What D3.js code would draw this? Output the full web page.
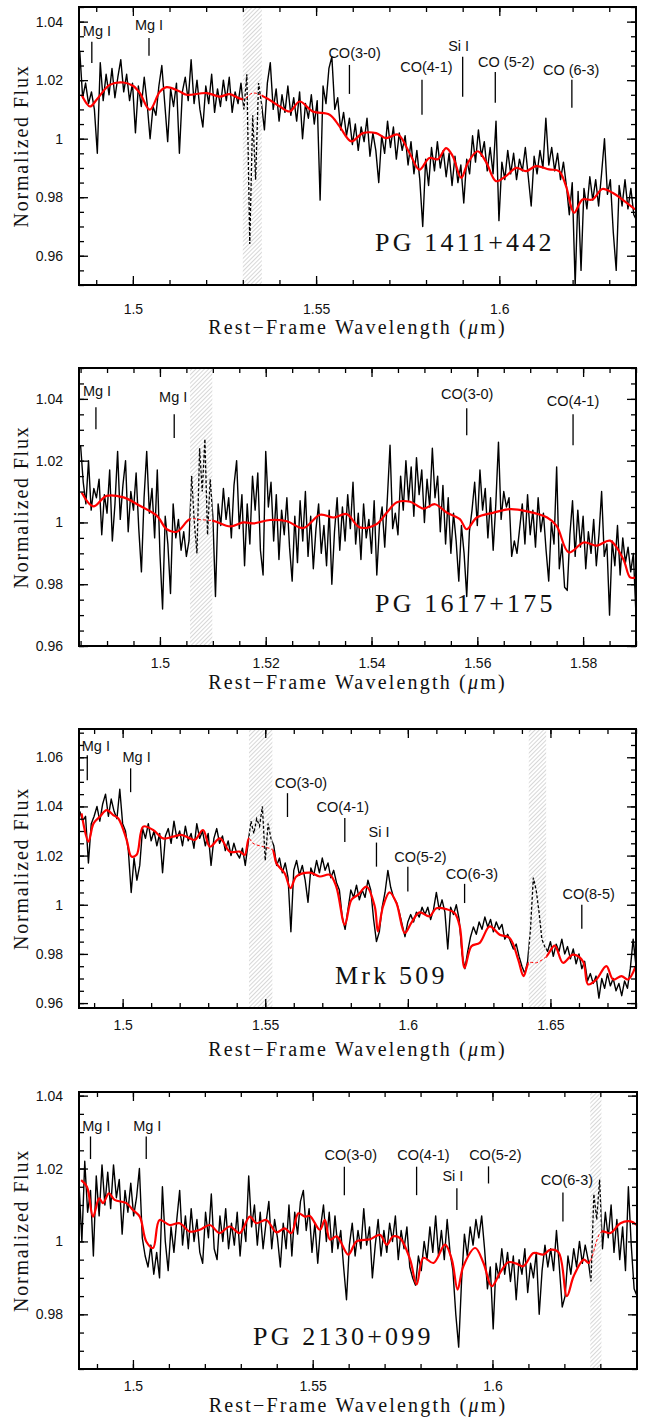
<!DOCTYPE html>
<html>
<head>
<meta charset="utf-8">
<script src="https://cdn.jsdelivr.net/npm/d3@7"></script>
<style>
  body { margin: 0; background: #fff; }
  svg { display: block; }
</style>
</head>
<body>
<svg id="fig" width="647" height="1422"></svg>
<script>
// ---- PG 1411+442 ----
const pg1411Wave0 = 1.4855, pg1411Step = 0.0008;
const pg1411Flux = [
  1.030,1.014,1.019,1.012,1.016,1.010,0.995,1.026,1.013,1.022,
  1.015,1.024,1.014,1.021,1.027,1.016,1.022,1.013,1.019,1.002,
  1.018,1.011,1.021,1.012,1.000,1.011,1.008,1.018,1.025,1.012,
  0.999,1.017,1.011,1.019,0.995,1.016,1.021,1.013,1.027,1.012,
  1.020,1.010,1.004,1.018,1.012,1.022,1.009,1.017,1.011,1.020,
  1.013,1.021,1.009,1.016,1.012,1.019,1.010,1.022,0.964,1.008,
  0.986,1.019,1.012,1.003,1.019,1.026,1.010,1.017,1.006,1.015,
  1.009,1.018,1.008,1.014,1.006,1.016,1.000,1.012,1.007,1.015,
  1.005,1.013,0.979,1.018,1.012,1.024,1.028,1.010,1.014,1.003,
  1.009,1.001,1.007,0.998,1.005,0.996,1.004,0.999,1.007,0.994,
  1.002,0.996,0.985,1.001,0.995,1.006,0.997,1.004,0.993,1.002,
  0.996,1.001,0.991,0.999,0.988,0.996,0.986,0.970,0.993,0.984,
  0.997,0.989,0.999,0.990,0.996,0.987,0.995,0.984,0.994,0.985,
  0.991,0.978,0.993,0.988,1.001,0.992,1.003,0.994,0.999,0.989,
  0.997,0.988,1.006,0.972,0.992,0.986,0.996,0.988,0.995,0.986,
  0.993,0.989,0.997,0.987,0.977,0.994,0.988,0.996,0.990,1.007,
  0.991,0.997,0.989,0.995,0.986,0.992,0.984,0.974,0.985,0.950,
  0.982,0.955,0.983,0.976,0.987,0.979,0.986,0.977,0.988,1.000,
  0.981,0.986,0.968,0.955,0.984,0.977,0.986,0.976,0.983,0.974,
  0.972
];
const pg1411FitWave = [
  1.4860,1.4883,1.4901,1.4937,1.4974,1.5001,1.5019,1.5046,1.5074,1.5092,
  1.5128,1.5146,1.5201,1.5237,1.5264,1.5301,1.5328,1.5364,1.5401,1.5428,
  1.5455,1.5491,1.5537,1.5564,1.5596,1.5628,1.5664,1.5691,1.5723,1.5755,
  1.5782,1.5809,1.5832,1.5855,1.5873,1.5896,1.5914,1.5941,1.5964,1.5991,
  1.6018,1.6046,1.6073,1.6100,1.6136,1.6163,1.6182,1.6204,1.6227,1.6254,
  1.6281,1.6309,1.6336,1.6371
];
const pg1411FitFlux = [
  1.0150,1.0110,1.0133,1.0184,1.0192,1.0180,1.0156,1.0099,1.0161,1.0176,
  1.0161,1.0150,1.0156,1.0144,1.0152,1.0135,1.0156,1.0139,1.0110,1.0093,
  1.0127,1.0093,1.0082,1.0042,0.9991,1.0019,1.0019,1.0002,1.0014,0.9951,
  0.9894,0.9934,0.9930,0.9968,0.9940,0.9866,0.9917,0.9957,0.9920,0.9855,
  0.9872,0.9900,0.9889,0.9906,0.9895,0.9889,0.9838,0.9747,0.9792,0.9792,
  0.9828,0.9815,0.9792,0.9758
];
const pg1411Masks = [[1.5300, 1.5352]];
const pg1411Lines = [
  { label: "Mg I",     wl: 1.4888, top: 1.0331, bot: 1.0259, tw: 1.4902, tf: 1.0368 },
  { label: "Mg I",     wl: 1.5044, top: 1.0344, bot: 1.0283, tw: 1.5044, tf: 1.0389 },
  { label: "CO(3-0)",  wl: 1.5591, top: 1.0252, bot: 1.0153, tw: 1.5605, tf: 1.0293 },
  { label: "CO(4-1)",  wl: 1.5789, top: 1.0201, bot: 1.0082, tw: 1.5801, tf: 1.0245 },
  { label: "Si I",     wl: 1.5900, top: 1.0280, bot: 1.0143, tw: 1.5889, tf: 1.0317 },
  { label: "CO (5-2)", wl: 1.5989, top: 1.0228, bot: 1.0123, tw: 1.6019, tf: 1.0263 },
  { label: "CO (6-3)", wl: 1.6198, top: 1.0201, bot: 1.0106, tw: 1.6196, tf: 1.0235 }
];

// ---- PG 1617+175 ----
const pg1617Wave0 = 1.4850, pg1617Step = 0.0005;
const pg1617Flux = [
  1.025,1.013,1.006,1.020,1.004,1.011,1.008,1.014,0.996,1.009,
  1.003,1.017,0.994,1.006,1.023,1.001,1.012,1.020,0.997,1.010,
  1.004,1.016,0.998,0.984,1.008,1.023,1.003,1.011,0.995,1.017,
  0.990,0.972,1.002,0.993,0.977,1.006,0.995,1.001,0.991,0.997,
  0.989,0.994,1.015,1.000,0.990,1.024,1.010,1.027,0.996,1.014,
  1.002,0.976,1.006,0.999,1.011,1.001,1.008,0.995,1.012,1.020,
  0.998,1.009,0.986,1.006,0.993,1.015,1.004,1.016,0.991,0.983,
  1.023,1.005,1.013,0.994,1.009,0.988,1.004,0.996,1.008,0.992,
  0.981,1.002,0.987,1.007,0.994,1.010,0.989,1.002,0.985,0.998,
  1.006,0.990,0.999,0.986,1.004,0.980,0.997,1.008,0.991,1.005,
  0.994,1.009,0.998,1.013,0.993,1.003,0.988,1.006,0.995,1.001,
  0.990,1.007,0.983,0.999,1.005,0.992,1.008,1.025,0.998,1.003,
  0.996,1.015,1.004,1.020,1.007,1.018,1.002,1.021,1.009,1.017,
  1.000,1.014,1.005,1.024,1.008,1.015,0.997,1.012,0.993,1.008,
  0.990,1.003,0.994,0.981,0.999,0.990,0.976,0.997,1.004,1.013,
  0.999,1.017,1.004,1.011,0.995,1.008,0.991,1.006,1.026,1.001,
  1.010,1.005,1.008,0.989,0.994,0.990,0.998,1.006,0.993,1.009,
  0.996,1.004,0.992,1.008,0.997,1.003,0.991,0.981,1.000,0.993,
  1.018,0.985,0.993,0.979,0.978,0.996,1.007,0.989,1.004,0.992,
  1.002,0.985,0.997,0.990,1.001,0.986,0.996,1.010,0.989,0.993,
  0.970,0.994,0.986,0.999,0.983,0.995,0.987,0.992,0.984,0.990,
  0.970
];
const pg1617FitWave = [
  1.4852,1.4874,1.4899,1.4931,1.4962,1.4994,1.5013,1.5032,1.5057,1.5076,
  1.5101,1.5133,1.5158,1.5177,1.5208,1.5240,1.5271,1.5303,1.5328,1.5353,
  1.5378,1.5410,1.5429,1.5448,1.5473,1.5498,1.5520,1.5542,1.5567,1.5580,
  1.5599,1.5631,1.5662,1.5694,1.5732,1.5750,1.5773,1.5801,1.5826,1.5851,
  1.5876,1.5889,1.5900
];
const pg1617FitFlux = [
  1.0097,1.0052,1.0086,1.0081,1.0054,1.0022,0.9978,0.9970,1.0011,1.0009,
  1.0005,0.9987,1.0000,0.9997,1.0008,1.0004,0.9982,1.0025,1.0016,1.0027,
  0.9984,0.9995,1.0032,1.0065,1.0067,1.0045,1.0059,1.0032,1.0011,0.9978,
  1.0016,1.0032,1.0043,1.0036,1.0016,0.9989,0.9903,0.9935,0.9925,0.9941,
  0.9881,0.9822,0.9822
];
const pg1617Masks = [[1.5057, 1.5099]];
const pg1617Lines = [
  { label: "Mg I",    wl: 1.4879, top: 1.0373, bot: 1.0302, tw: 1.4881, tf: 1.0425 },
  { label: "Mg I",    wl: 1.5027, top: 1.0350, bot: 1.0273, tw: 1.5025, tf: 1.0405 },
  { label: "CO(3-0)", wl: 1.5580, top: 1.0370, bot: 1.0282, tw: 1.5581, tf: 1.0415 },
  { label: "CO(4-1)", wl: 1.5781, top: 1.0350, bot: 1.0250, tw: 1.5781, tf: 1.0392 }
];

// ---- Mrk 509 ----
const mrk509Wave0 = 1.4850, mrk509Step = 0.001;
const mrk509Flux = [
  1.038,1.034,1.036,1.017,1.033,1.036,1.040,1.034,1.041,1.045,
  1.036,1.043,1.038,1.035,1.047,1.033,1.030,1.022,1.005,1.019,
  1.010,1.016,1.031,1.027,1.033,1.026,1.030,1.024,1.029,1.013,
  1.028,1.031,1.025,1.034,1.027,1.030,1.024,1.032,1.026,1.029,
  1.023,1.033,1.027,1.030,1.024,1.029,1.016,1.027,1.031,1.025,
  1.028,1.022,1.026,1.020,1.025,1.021,1.019,1.023,1.016,1.025,
  1.034,1.029,1.035,1.032,1.040,1.018,1.033,1.027,1.024,1.016,
  1.019,1.013,1.017,1.011,0.989,1.014,1.018,1.012,1.016,1.010,
  1.001,1.015,1.012,1.018,1.013,1.019,1.014,1.017,1.011,1.014,
  1.009,1.006,0.995,0.990,0.998,1.006,1.003,1.008,1.002,1.006,
  1.003,1.010,1.006,0.994,0.985,0.989,0.999,1.005,1.014,1.007,
  1.003,1.001,0.997,0.992,0.987,0.993,0.996,0.993,0.997,0.995,
  0.999,0.996,0.999,0.994,0.998,1.005,0.998,1.002,0.997,0.982,
  0.999,0.996,1.000,0.994,0.980,0.974,0.981,0.987,0.991,0.988,
  0.993,0.990,0.995,0.991,0.994,0.989,0.993,0.990,0.992,0.986,
  0.988,0.985,0.982,0.984,0.979,0.975,0.972,0.977,0.990,1.011,
  1.006,0.997,0.986,0.983,0.981,0.985,0.979,0.984,0.981,0.986,
  0.980,0.983,0.978,0.982,0.976,0.980,0.974,0.977,0.969,0.972,
  0.968,0.971,0.962,0.970,0.966,0.972,0.967,0.970,0.965,0.968,
  0.963,0.969,0.966,0.974,0.986,0.975
];
const mrk509FitWave = [
  1.4856,1.4880,1.4898,1.4920,1.4944,1.4967,1.4985,1.5014,1.5031,1.5049,
  1.5072,1.5107,1.5142,1.5177,1.5206,1.5236,1.5253,1.5282,1.5306,1.5341,
  1.5376,1.5411,1.5428,1.5443,1.5457,1.5492,1.5525,1.5539,1.5568,1.5589,
  1.5609,1.5656,1.5691,1.5726,1.5749,1.5779,1.5802,1.5826,1.5855,1.5884,
  1.5895,1.5913,1.5936,1.5960,1.5989,1.6012,1.6041,1.6076,1.6100,1.6135,
  1.6164,1.6182,1.6199,1.6223,1.6252,1.6287,1.6322,1.6357,1.6387,1.6406,
  1.6425,1.6451,1.6486,1.6515,1.6544,1.6579,1.6614,1.6632,1.6661,1.6696,
  1.6720,1.6749,1.6772,1.6799
];
const mrk509FitFlux = [
  1.0372,1.0257,1.0331,1.0358,1.0385,1.0365,1.0351,1.0264,1.0196,1.0203,
  1.0318,1.0304,1.0270,1.0277,1.0284,1.0270,1.0264,1.0304,1.0236,1.0270,
  1.0216,1.0216,1.0203,1.0270,1.0250,1.0236,1.0223,1.0169,1.0128,1.0068,
  1.0115,1.0131,1.0115,1.0122,1.0074,0.9919,1.0020,1.0041,1.0074,0.9993,
  0.9892,0.9993,1.0050,1.0007,0.9885,0.9926,0.9969,0.9953,0.9986,0.9982,
  0.9966,0.9912,0.9743,0.9831,0.9845,0.9912,0.9878,0.9865,0.9777,0.9710,
  0.9764,0.9764,0.9790,0.9834,0.9764,0.9797,0.9770,0.9676,0.9696,0.9750,
  0.9696,0.9710,0.9696,0.9750
];
const mrk509Masks = [[1.5443, 1.5525], [1.6424, 1.6485]];
const mrk509Lines = [
  { label: "Mg I",    wl: 1.4876, top: 1.0608, bot: 1.0507, tw: 1.4906, tf: 1.0646 },
  { label: "Mg I",    wl: 1.5028, top: 1.0555, bot: 1.0458, tw: 1.5049, tf: 1.0600 },
  { label: "CO(3-0)", wl: 1.5578, top: 1.0454, bot: 1.0357, tw: 1.5625, tf: 1.0496 },
  { label: "CO(4-1)", wl: 1.5779, top: 1.0353, bot: 1.0255, tw: 1.5772, tf: 1.0397 },
  { label: "Si I",    wl: 1.5890, top: 1.0253, bot: 1.0155, tw: 1.5899, tf: 1.0297 },
  { label: "CO(5-2)", wl: 1.6000, top: 1.0155, bot: 1.0054, tw: 1.6044, tf: 1.0193 },
  { label: "CO(6-3)", wl: 1.6199, top: 1.0085, bot: 1.0007, tw: 1.6225, tf: 1.0126 },
  { label: "CO(8-5)", wl: 1.6610, top: 1.0000, bot: 0.9902, tw: 1.6634, tf: 1.0045 }
];

// ---- PG 2130+099 ----
const pg2130Wave0 = 1.4850, pg2130Step = 0.0008;
const pg2130Flux = [
  1.016,1.000,1.022,1.008,1.014,0.996,1.018,1.007,1.021,1.010,
  1.019,1.009,1.021,1.012,1.017,1.002,1.014,1.008,1.016,1.007,
  1.012,1.020,1.001,0.996,0.993,0.999,0.991,0.997,0.990,1.015,
  1.000,0.992,1.004,0.997,1.006,1.014,0.999,1.007,0.998,1.009,
  1.000,1.006,0.997,0.994,1.008,1.001,1.013,0.998,0.995,1.007,
  1.000,1.009,0.998,1.005,0.999,1.008,0.996,1.006,1.000,1.018,
  1.004,1.010,0.999,1.008,0.998,1.005,1.011,0.998,1.006,1.001,
  0.993,1.005,0.998,1.010,0.996,1.008,1.002,1.011,1.014,1.003,
  1.009,0.997,1.005,0.994,1.004,1.010,1.000,1.008,0.997,1.007,
  0.998,1.003,0.993,0.984,0.999,1.005,0.996,1.003,0.998,1.009,
  0.999,1.004,0.990,0.999,1.006,0.996,1.003,0.997,1.005,1.000,
  1.007,0.995,1.003,0.998,1.004,0.993,0.990,0.988,0.996,0.992,
  1.000,0.995,1.004,0.997,1.007,0.996,1.003,0.995,1.006,0.997,
  0.992,0.980,0.971,0.989,1.002,0.996,1.004,0.999,1.006,1.001,
  1.007,0.998,0.987,0.993,0.976,0.994,0.990,0.998,0.991,0.997,
  0.989,0.996,0.984,0.995,0.991,0.998,0.986,0.994,0.990,0.997,
  0.980,0.992,0.999,0.993,0.998,0.992,1.003,0.993,0.982,0.985,
  0.996,0.991,0.998,0.993,1.000,0.994,0.999,0.995,0.989,1.013,
  1.006,1.017,0.998,1.008,1.001,1.010,0.997,1.006,0.995,1.004,
  0.992,1.015,0.999,0.987,0.985
];
const pg2130FitWave = [
  1.4856,1.4872,1.4889,1.4906,1.4917,1.4933,1.4949,1.4982,1.5000,1.5019,
  1.5037,1.5056,1.5074,1.5102,1.5130,1.5158,1.5186,1.5214,1.5241,1.5269,
  1.5297,1.5325,1.5343,1.5371,1.5399,1.5422,1.5441,1.5460,1.5478,1.5492,
  1.5520,1.5534,1.5548,1.5567,1.5599,1.5622,1.5660,1.5687,1.5706,1.5724,
  1.5743,1.5771,1.5789,1.5808,1.5836,1.5868,1.5887,1.5903,1.5919,1.5952,
  1.5975,1.5998,1.6021,1.6044,1.6067,1.6086,1.6114,1.6142,1.6160,1.6184,
  1.6207,1.6226,1.6254,1.6268,1.6303,1.6328,1.6356,1.6384,1.6402
];
const pg2130FitFlux = [
  1.0168,1.0150,1.0068,1.0118,1.0105,1.0132,1.0114,1.0105,1.0086,1.0068,
  1.0000,0.9982,1.0059,1.0045,1.0050,1.0027,1.0032,1.0045,1.0023,1.0041,
  1.0023,1.0068,1.0050,1.0059,1.0025,1.0036,1.0023,1.0077,1.0068,1.0070,
  1.0032,1.0059,1.0005,1.0014,0.9964,1.0000,1.0006,1.0018,0.9991,1.0014,
  1.0009,0.9950,0.9882,0.9955,0.9941,0.9991,0.9950,0.9868,0.9932,0.9982,
  0.9941,0.9877,0.9914,0.9943,0.9939,0.9932,0.9968,0.9964,0.9977,0.9970,
  0.9850,0.9905,0.9950,0.9941,1.0027,1.0023,1.0050,1.0055,1.0045
];
const pg2130Masks = [[1.6272, 1.6303]];
const pg2130Lines = [
  { label: "Mg I",    wl: 1.4882, top: 1.0288, bot: 1.0226, tw: 1.4898, tf: 1.0318 },
  { label: "Mg I",    wl: 1.5037, top: 1.0288, bot: 1.0226, tw: 1.5040, tf: 1.0318 },
  { label: "CO(3-0)", wl: 1.5588, top: 1.0205, bot: 1.0127, tw: 1.5606, tf: 1.0236 },
  { label: "CO(4-1)", wl: 1.5789, top: 1.0205, bot: 1.0127, tw: 1.5808, tf: 1.0236 },
  { label: "Si I",    wl: 1.5901, top: 1.0146, bot: 1.0086, tw: 1.5890, tf: 1.0179 },
  { label: "CO(5-2)", wl: 1.5989, top: 1.0206, bot: 1.0159, tw: 1.6008, tf: 1.0236 },
  { label: "CO(6-3)", wl: 1.6196, top: 1.0134, bot: 1.0055, tw: 1.6207, tf: 1.0170 }
];

// layout of the four stacked panels (labelPad / titleDy measured per panel)
const panels = [
  { name: "PG 1411+442", box: { l: 79, t: 7, r: 636, b: 285 }, labelPad: 19, titleDy: 49,
    xDom: [1.4853, 1.6373], yDom: [0.95, 1.045],
    xMajor: [1.5, 1.55, 1.6], xMinor: 0.01, yMajor: [0.96, 0.98, 1, 1.02, 1.04], yMinor: 0.005,
    w0: pg1411Wave0, dw: pg1411Step, flux: pg1411Flux, fitW: pg1411FitWave, fitF: pg1411FitFlux,
    masks: pg1411Masks, lines: pg1411Lines, namePos: [375, 251] },
  { name: "PG 1617+175", box: { l: 79, t: 368, r: 636, b: 646 }, labelPad: 12, titleDy: 43,
    xDom: [1.4847, 1.59], yDom: [0.96, 1.05],
    xMajor: [1.5, 1.52, 1.54, 1.56, 1.58], xMinor: 0.005, yMajor: [0.96, 0.98, 1, 1.02, 1.04], yMinor: 0.005,
    w0: pg1617Wave0, dw: pg1617Step, flux: pg1617Flux, fitW: pg1617FitWave, fitF: pg1617FitFlux,
    masks: pg1617Masks, lines: pg1617Lines, namePos: [375, 612] },
  { name: "Mrk 509", box: { l: 79, t: 729, r: 636, b: 1008 }, labelPad: 12, titleDy: 48,
    xDom: [1.4847, 1.68], yDom: [0.958, 1.0715],
    xMajor: [1.5, 1.55, 1.6, 1.65], xMinor: 0.01, yMajor: [0.96, 0.98, 1, 1.02, 1.04, 1.06], yMinor: 0.005,
    w0: mrk509Wave0, dw: mrk509Step, flux: mrk509Flux, fitW: mrk509FitWave, fitF: mrk509FitFlux,
    masks: mrk509Masks, lines: mrk509Lines, namePos: [335, 984] },
  { name: "PG 2130+099", box: { l: 79, t: 1092, r: 637, b: 1369 }, labelPad: 12, titleDy: 43,
    xDom: [1.485, 1.6402], yDom: [0.965, 1.041],
    xMajor: [1.5, 1.55, 1.6], xMinor: 0.01, yMajor: [0.98, 1, 1.02, 1.04], yMinor: 0.005,
    w0: pg2130Wave0, dw: pg2130Step, flux: pg2130Flux, fitW: pg2130FitWave, fitF: pg2130FitFlux,
    masks: pg2130Masks, lines: pg2130Lines, namePos: [253, 1345] }
];

const sans = "'Liberation Sans', Arial, Helvetica, sans-serif";
const serif = "'Liberation Serif', 'Times New Roman', serif";
const fmt = d3.format("~g");

const svg = d3.select("#fig");
const defs = svg.append("defs");

// grey hatching for the masked (telluric) windows
const hatch = defs.append("pattern")
  .attr("id", "hatch")
  .attr("patternUnits", "userSpaceOnUse")
  .attr("width", 3).attr("height", 3)
  .attr("patternTransform", "rotate(45)");
hatch.append("line")
  .attr("x1", 0).attr("y1", 0).attr("x2", 0).attr("y2", 3)
  .attr("stroke", "#bcbcbc").attr("stroke-width", 1.2);

function stepTicks(dom, step) {
  const a = Math.ceil(dom[0] / step - 1e-9), b = Math.floor(dom[1] / step + 1e-9);
  return d3.range(a, b + 1).map(k => +(k * step).toFixed(4));
}

function drawAxis(g, axis, tr) {
  const a = g.append("g").attr("transform", tr).call(axis);
  a.select(".domain").remove();
  a.selectAll("line").attr("stroke", "#000").attr("stroke-width", 1.3);
  a.selectAll("text").attr("font-family", sans).attr("font-size", 14).attr("fill", "#111");
  return a;
}

panels.forEach((p, k) => {
  const b = p.box;
  const x = d3.scaleLinear().domain(p.xDom).range([b.l, b.r]);
  const y = d3.scaleLinear().domain(p.yDom).range([b.b, b.t]);
  const g = svg.append("g").attr("class", "panel");

  // clip areas: inside the masks and outside them
  const gaps = [];
  let from = p.xDom[0];
  p.masks.forEach(m => { gaps.push([from, m[0]]); from = m[1]; });
  gaps.push([from, p.xDom[1]]);

  defs.append("clipPath").attr("id", "in" + k)
    .selectAll("rect").data(p.masks).join("rect")
    .attr("x", d => x(d[0])).attr("width", d => x(d[1]) - x(d[0]))
    .attr("y", b.t).attr("height", b.b - b.t);
  defs.append("clipPath").attr("id", "out" + k)
    .selectAll("rect").data(gaps).join("rect")
    .attr("x", d => x(d[0])).attr("width", d => x(d[1]) - x(d[0]))
    .attr("y", b.t).attr("height", b.b - b.t);

  g.selectAll("rect.mask").data(p.masks).join("rect")
    .attr("class", "mask")
    .attr("x", d => x(d[0])).attr("width", d => x(d[1]) - x(d[0]))
    .attr("y", b.t).attr("height", b.b - b.t)
    .attr("fill", "url(#hatch)");

  const spec = p.flux.map((f, i) => [p.w0 + i * p.dw, f]);
  const fit = p.fitW.map((w, i) => [w, p.fitF[i]]);
  const specLine = d3.line().x(d => x(d[0])).y(d => y(d[1]));
  const fitLine = d3.line().x(d => x(d[0])).y(d => y(d[1])).curve(d3.curveCatmullRom.alpha(0.5));

  g.append("path").attr("d", specLine(spec))
    .attr("clip-path", `url(#out${k})`)
    .attr("fill", "none").attr("stroke", "#000").attr("stroke-width", 1.4)
    .attr("stroke-linejoin", "round");
  g.append("path").attr("d", specLine(spec))
    .attr("clip-path", `url(#in${k})`)
    .attr("fill", "none").attr("stroke", "#000").attr("stroke-width", 1.3)
    .attr("stroke-dasharray", "3,2");
  g.append("path").attr("d", fitLine(fit))
    .attr("clip-path", `url(#out${k})`)
    .attr("fill", "none").attr("stroke", "#f00").attr("stroke-width", 2.2);
  g.append("path").attr("d", fitLine(fit))
    .attr("clip-path", `url(#in${k})`)
    .attr("fill", "none").attr("stroke", "#f00").attr("stroke-width", 1)
    .attr("stroke-dasharray", "3,2");

  // inward ticks on all four sides
  const xMin = stepTicks(p.xDom, p.xMinor), yMin = stepTicks(p.yDom, p.yMinor);
  drawAxis(g, d3.axisBottom(x).tickValues(p.xMajor).tickSize(-9).tickPadding(p.labelPad).tickFormat(fmt), `translate(0,${b.b})`);
  drawAxis(g, d3.axisBottom(x).tickValues(xMin).tickSize(-5).tickFormat(""), `translate(0,${b.b})`);
  drawAxis(g, d3.axisTop(x).tickValues(p.xMajor).tickSize(-9).tickFormat(""), `translate(0,${b.t})`);
  drawAxis(g, d3.axisTop(x).tickValues(xMin).tickSize(-5).tickFormat(""), `translate(0,${b.t})`);
  drawAxis(g, d3.axisLeft(y).tickValues(p.yMajor).tickSize(-9).tickPadding(16).tickFormat(fmt), `translate(${b.l},0)`);
  drawAxis(g, d3.axisLeft(y).tickValues(yMin).tickSize(-5).tickFormat(""), `translate(${b.l},0)`);
  drawAxis(g, d3.axisRight(y).tickValues(p.yMajor).tickSize(-9).tickFormat(""), `translate(${b.r},0)`);
  drawAxis(g, d3.axisRight(y).tickValues(yMin).tickSize(-5).tickFormat(""), `translate(${b.r},0)`);

  g.append("rect")
    .attr("x", b.l).attr("y", b.t).attr("width", b.r - b.l).attr("height", b.b - b.t)
    .attr("fill", "none").attr("stroke", "#000").attr("stroke-width", 2);

  // line identifications
  const ann = g.selectAll("g.ann").data(p.lines).join("g").attr("class", "ann");
  ann.append("line")
    .attr("x1", d => x(d.wl)).attr("x2", d => x(d.wl))
    .attr("y1", d => y(d.top)).attr("y2", d => y(d.bot))
    .attr("stroke", "#000").attr("stroke-width", 1.3);
  ann.append("text")
    .attr("x", d => x(d.tw)).attr("y", d => y(d.tf))
    .attr("text-anchor", "middle").attr("dy", "0.35em")
    .attr("font-family", sans).attr("font-size", 14.5).attr("fill", "#111")
    .text(d => d.label);

  g.append("text")
    .attr("x", p.namePos[0]).attr("y", p.namePos[1])
    .attr("font-family", serif).attr("font-size", 26).attr("letter-spacing", 3.2)
    .attr("fill", "#111")
    .text(p.name);

  // axis titles
  const xt = g.append("text")
    .attr("x", (b.l + b.r) / 2).attr("y", b.b + p.titleDy)
    .attr("text-anchor", "middle")
    .attr("font-family", serif).attr("font-size", 20).attr("letter-spacing", 2.2)
    .attr("fill", "#111");
  xt.append("tspan").text("Rest\u2212Frame Wavelength (");
  xt.append("tspan").attr("font-style", "italic").text("\u03bc");
  xt.append("tspan").text("m)");

  g.append("text")
    .attr("transform", `translate(28,${(b.t + b.b) / 2}) rotate(-90)`)
    .attr("text-anchor", "middle")
    .attr("font-family", serif).attr("font-size", 20).attr("letter-spacing", 1.8)
    .attr("fill", "#111")
    .text("Normalized Flux");
});
</script>
</body>
</html>
